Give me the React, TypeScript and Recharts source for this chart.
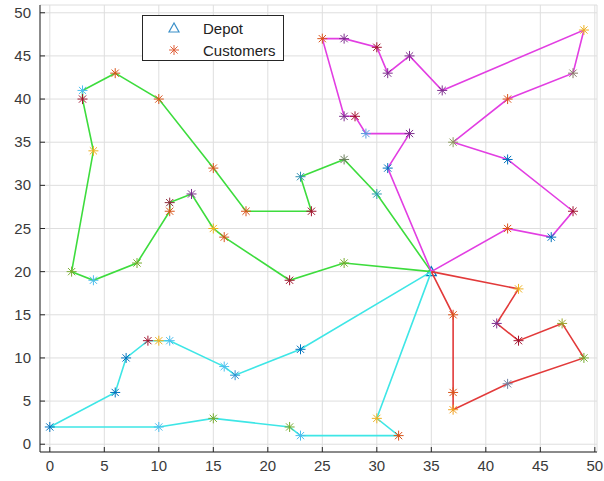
import { CartesianGrid, Legend, Scatter, ScatterChart, XAxis, YAxis } from "recharts";

// depot and the four vehicle routes (stops in visiting order, depot excluded)
const depot = { x: 35, y: 20 };

const greenStops = [
  [30, 29], [27, 33], [23, 31], [24, 27], [18, 27], [15, 32], [10, 40], [6, 43],
  [3, 41], [3, 40], [4, 34], [2, 20], [4, 19], [8, 21], [11, 27], [11, 28],
  [13, 29], [15, 25], [16, 24], [22, 19], [27, 21],
];
const magentaStops = [
  [31, 32], [33, 36], [29, 36], [28, 38], [27, 38], [25, 47], [27, 47], [30, 46],
  [31, 43], [33, 45], [36, 41], [49, 48], [48, 43], [42, 40], [37, 35], [42, 33],
  [48, 27], [46, 24], [42, 25],
];
const cyanStops = [
  [23, 11], [17, 8], [16, 9], [11, 12], [10, 12], [9, 12], [7, 10], [6, 6],
  [0, 2], [10, 2], [15, 3], [22, 2], [23, 1], [32, 1], [30, 3],
];
const redStops = [
  [43, 18], [41, 14], [43, 12], [47, 14], [49, 10], [42, 7], [37, 4], [37, 6], [37, 15],
];

const axisTicks = [0, 5, 10, 15, 20, 25, 30, 35, 40, 45, 50];
const legendLabels = ["Depot", "Customers"];

// marker colours, same order as the stops above
const greenMarks = [
  "#2a9fb0", "#6a7d5a", "#2f8fb0", "#a2142f", "#d95319", "#d95319", "#d95319", "#d95319",
  "#4dbeee", "#a2142f", "#edb120", "#77ac30", "#4dbeee", "#77ac30", "#d95319", "#8c2a3a",
  "#7e2f8e", "#edb120", "#d95319", "#a2142f", "#77ac30",
];
const magentaMarks = [
  "#0072bd", "#7e2f8e", "#5a9be0", "#a2142f", "#7e2f8e", "#d95319", "#7e2f8e", "#a2142f",
  "#7e2f8e", "#7e2f8e", "#7e2f8e", "#edb120", "#8a7a6a", "#d95319", "#8a9a5a", "#0072bd",
  "#a2142f", "#0072bd", "#d95319",
];
const cyanMarks = [
  "#0072bd", "#2f8fd0", "#4dbeee", "#4dbeee", "#edb120", "#a2142f", "#0072bd", "#0072bd",
  "#0072bd", "#4dbeee", "#77ac30", "#77ac30", "#4dbeee", "#d95319", "#edb120",
];
const redMarks = [
  "#edb120", "#7e2f8e", "#a2142f", "#9aa52a", "#77ac30", "#7080a0", "#f0a020", "#d95319", "#d95319",
];

const routes = [
  { stops: greenStops, marks: greenMarks, color: "#3ddc3d" },
  { stops: magentaStops, marks: magentaMarks, color: "#e23ee2" },
  { stops: cyanStops, marks: cyanMarks, color: "#3ee6e6" },
  { stops: redStops, marks: redMarks, color: "#e23a3a" },
];

const AXIS = "#262626";
const LABEL = "#3a3a3a";
const FONT = "'Liberation Sans', Arial, sans-serif";

const routeLine = (stops: number[][]) => [
  depot,
  ...stops.map(([x, y]) => ({ x, y })),
  depot,
];

const customers = routes.flatMap((r) =>
  r.stops.map(([x, y], i) => ({ x, y, c: r.marks[i] })),
);

function Asterisk({ cx, cy, color, r = 5 }: { cx: number; cy: number; color: string; r?: number }) {
  const d = r * 0.72;
  return (
    <g stroke={color} strokeWidth={1}>
      <line x1={cx - r} y1={cy} x2={cx + r} y2={cy} />
      <line x1={cx} y1={cy - r} x2={cx} y2={cy + r} />
      <line x1={cx - d} y1={cy - d} x2={cx + d} y2={cy + d} />
      <line x1={cx - d} y1={cy + d} x2={cx + d} y2={cy - d} />
    </g>
  );
}

function Triangle({ cx, cy, color }: { cx: number; cy: number; color: string }) {
  return (
    <polygon
      points={`${cx},${cy - 5} ${cx - 5},${cy + 4} ${cx + 5},${cy + 4}`}
      fill="none"
      stroke={color}
      strokeWidth={1.2}
    />
  );
}

const bottomTick = (p: any) => (
  <g>
    <line x1={p.x} y1={p.y} x2={p.x} y2={p.y - 5} stroke={AXIS} />
    <text x={p.x} y={p.y + 19} textAnchor="middle" fontSize={15} fill={LABEL} fontFamily={FONT}>
      {p.payload.value}
    </text>
  </g>
);
const leftTick = (p: any) => (
  <g>
    <line x1={p.x} y1={p.y} x2={p.x + 5} y2={p.y} stroke={AXIS} />
    <text x={p.x - 9} y={p.y + 5} textAnchor="end" fontSize={15} fill={LABEL} fontFamily={FONT}>
      {p.payload.value}
    </text>
  </g>
);
const topTick = (p: any) => <line x1={p.x} y1={p.y} x2={p.x} y2={p.y + 5} stroke={AXIS} />;
const rightTick = (p: any) => <line x1={p.x} y1={p.y} x2={p.x - 5} y2={p.y} stroke={AXIS} />;

function LegendBox() {
  return (
    <svg width={142} height={46} style={{ display: "block" }}>
      <rect x={0.5} y={0.5} width={141} height={45} fill="#fff" stroke={AXIS} />
      <Triangle cx={32} cy={13} color="#3a8fc8" />
      <Asterisk cx={32} cy={35} color="#e0603a" />
      <text x={61} y={18.5} fontSize={15} fill="#222" fontFamily={FONT}>
        {legendLabels[0]}
      </text>
      <text x={61} y={40.5} fontSize={15} fill="#222" fontFamily={FONT}>
        {legendLabels[1]}
      </text>
    </svg>
  );
}

export default function App() {
  return (
    <div style={{ width: 604, height: 481, background: "#fff", fontFamily: FONT }}>
      <style>{"body{margin:0}"}</style>
      <ScatterChart width={604} height={481} margin={{ top: 5, right: 7, bottom: 0, left: 8 }}>
        <CartesianGrid stroke="#dedede" />
        <XAxis
          type="number"
          dataKey="x"
          domain={[-0.9, 50.2]}
          ticks={axisTicks}
          interval={0}
          height={29}
          tickSize={0}
          tickMargin={0}
          tickLine={false}
          axisLine={{ stroke: AXIS }}
          tick={bottomTick}
        />
        <XAxis
          xAxisId="t"
          orientation="top"
          type="number"
          dataKey="x"
          domain={[-0.9, 50.2]}
          ticks={axisTicks}
          interval={0}
          height={0}
          tickSize={0}
          tickMargin={0}
          tickLine={false}
          axisLine={{ stroke: AXIS }}
          tick={topTick}
        />
        <YAxis
          type="number"
          dataKey="y"
          domain={[-0.9, 50.9]}
          ticks={axisTicks}
          interval={0}
          width={32}
          tickSize={0}
          tickMargin={0}
          tickLine={false}
          axisLine={{ stroke: AXIS }}
          tick={leftTick}
        />
        <YAxis
          yAxisId="r"
          orientation="right"
          type="number"
          dataKey="y"
          domain={[-0.9, 50.9]}
          ticks={axisTicks}
          interval={0}
          width={0}
          tickSize={0}
          tickMargin={0}
          tickLine={false}
          axisLine={{ stroke: AXIS }}
          tick={rightTick}
        />
        <Legend
          layout="horizontal"
          verticalAlign="middle"
          align="center"
          wrapperStyle={{ left: 142, top: 15, width: "auto" }}
          content={() => <LegendBox />}
        />
        <Scatter
          data={[depot]}
          isAnimationActive={false}
          shape={(p: any) => <Triangle cx={p.cx} cy={p.cy} color="#0072bd" />}
        />
        {routes.map((r, i) => (
          <Scatter
            key={i}
            data={routeLine(r.stops)}
            line={{ stroke: r.color, strokeWidth: 1.6 }}
            lineType="joint"
            shape={() => <g />}
            isAnimationActive={false}
          />
        ))}
        <Scatter
          data={customers}
          isAnimationActive={false}
          shape={(p: any) => <Asterisk cx={p.cx} cy={p.cy} color={p.payload?.c ?? "#d95319"} />}
        />
      </ScatterChart>
    </div>
  );
}
